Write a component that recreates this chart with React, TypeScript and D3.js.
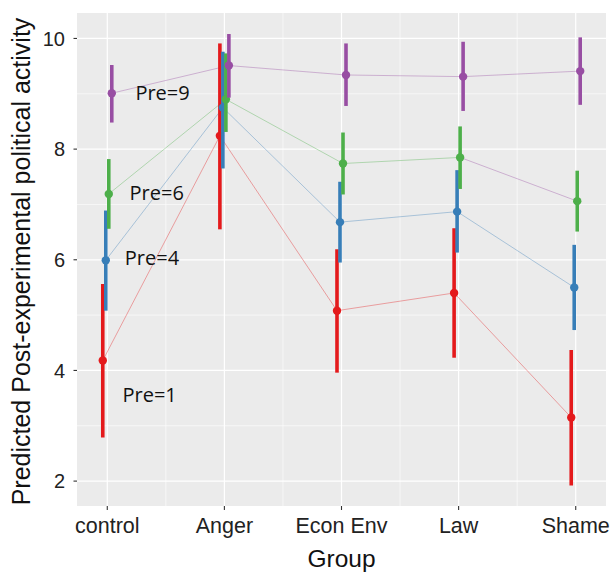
import React from "react";
import * as d3 from "d3";

const width = 614;
const height = 572;

const groups = ["control", "Anger", "Econ Env", "Law", "Shame"];
const series = ["Pre=1", "Pre=4", "Pre=6", "Pre=9"];
const colors = ["#E41A1C", "#377EB8", "#4DAF4A", "#984EA3"];

// predicted values per series, in group order
const pre1 = [4.18, 8.24, 5.08, 5.4, 3.15];
const pre4 = [5.99, 8.75, 6.68, 6.87, 5.5];
const pre6 = [7.19, 8.9, 7.74, 7.85, 7.06];
const pre9 = [9.01, 9.51, 9.34, 9.31, 9.41];

// confidence intervals
const pre1Lo = [2.79, 6.55, 3.96, 4.23, 1.92];
const pre1Hi = [5.56, 9.91, 6.19, 6.57, 4.37];
const pre4Lo = [5.08, 7.65, 5.95, 6.13, 4.73];
const pre4Hi = [6.89, 9.76, 7.41, 7.62, 6.27];
const pre6Lo = [6.56, 8.31, 7.18, 7.28, 6.51];
const pre6Hi = [7.82, 9.73, 8.3, 8.41, 7.61];
const pre9Lo = [8.48, 8.93, 8.78, 8.69, 8.8];
const pre9Hi = [9.52, 10.08, 9.91, 9.94, 10.02];

const yTicks = [2, 4, 6, 8, 10];
const yMinor = [3, 5, 7, 9];

// label positions in data units (group index offset, value)
const labelX = [0.13, 0.15, 0.19, 0.24];
const labelY = [3.55, 6.04, 7.2, 9.01];

const values = [pre1, pre4, pre6, pre9];
const lows = [pre1Lo, pre4Lo, pre6Lo, pre9Lo];
const highs = [pre1Hi, pre4Hi, pre6Hi, pre9Hi];
// the Pre=6 line between Law and Shame is drawn in purple in the original
const segColor = (s: number, i: number) => (s === 2 && i === 3 ? colors[3] : colors[s]);

const margin = { top: 13, right: 8, bottom: 66, left: 77 };

export default function App() {
  const x = d3
    .scalePoint<string>()
    .domain(groups)
    .range([margin.left, width - margin.right])
    .padding(0.2585);
  const y = d3
    .scaleLinear()
    .domain([1.55, 10.46])
    .range([height - margin.bottom, margin.top]);
  const step = x.step();
  const dodge = (s: number) => (s - 1.5) * 3;

  const minorX = groups.slice(1).map((g, i) => (x(groups[i])! + x(g)!) / 2);

  return (
    <svg
      width={width}
      height={height}
      style={{ position: "absolute", left: 0, top: 0, background: "white" }}
    >
      <rect
        x={margin.left}
        y={margin.top}
        width={width - margin.left - margin.right}
        height={height - margin.top - margin.bottom}
        fill="#EBEBEB"
      />
      {yMinor.map((v) => (
        <line key={"ym" + v} x1={margin.left} x2={width - margin.right} y1={y(v)} y2={y(v)} stroke="white" strokeWidth={0.6} />
      ))}
      {minorX.map((v, i) => (
        <line key={"xm" + i} x1={v} x2={v} y1={margin.top} y2={height - margin.bottom} stroke="white" strokeWidth={0.6} />
      ))}
      {yTicks.map((v) => (
        <line key={"yg" + v} x1={margin.left} x2={width - margin.right} y1={y(v)} y2={y(v)} stroke="white" strokeWidth={1.2} />
      ))}
      {groups.map((g) => (
        <line key={"xg" + g} x1={x(g)} x2={x(g)} y1={margin.top} y2={height - margin.bottom} stroke="white" strokeWidth={1.2} />
      ))}

      {/* connecting lines */}
      {values.map((vals, s) =>
        vals.slice(1).map((v, i) => (
          <line
            key={"l" + s + i}
            x1={x(groups[i])! + dodge(s)}
            y1={y(vals[i])}
            x2={x(groups[i + 1])! + dodge(s)}
            y2={y(v)}
            stroke={segColor(s, i)}
            strokeOpacity={0.5}
            strokeWidth={0.75}
          />
        ))
      )}

      {/* error bars and points */}
      {values.map((vals, s) =>
        vals.map((v, i) => {
          const cx = x(groups[i])! + dodge(s);
          return (
            <g key={"p" + s + i}>
              <line x1={cx} x2={cx} y1={y(lows[s][i])} y2={y(highs[s][i])} stroke={colors[s]} strokeWidth={3.6} />
              <circle cx={cx} cy={y(v)} r={4.2} fill={colors[s]} />
            </g>
          );
        })
      )}

      {/* series labels */}
      {series.map((name, s) => (
        <text
          key={name}
          x={x(groups[0])! + labelX[s] * step}
          y={y(labelY[s]) + 7}
          fontFamily="'Open Sans', sans-serif"
          fontSize={20}
          fill="#111"
        >
          {name}
        </text>
      ))}

      {/* y axis */}
      {yTicks.map((v) => (
        <g key={"yt" + v}>
          <line x1={margin.left - 3.5} x2={margin.left} y1={y(v)} y2={y(v)} stroke="#333" strokeWidth={1.1} />
          <text
            x={margin.left - 12}
            y={y(v)}
            dy="0.36em"
            textAnchor="end"
            fontFamily="'Liberation Sans', Arial, sans-serif"
            fontSize={20}
            fill="#222"
          >
            {v}
          </text>
        </g>
      ))}
      <text
        transform={`translate(30, ${(margin.top + height - margin.bottom) / 2 + 2}) rotate(-90)`}
        textAnchor="middle"
        fontFamily="'Liberation Sans', Arial, sans-serif"
        fontSize={25}
        fill="#111"
      >
        Predicted Post-experimental political activity
      </text>

      {/* x axis */}
      {groups.map((g) => (
        <g key={"xt" + g}>
          <line x1={x(g)} x2={x(g)} y1={height - margin.bottom} y2={height - margin.bottom + 4} stroke="#333" strokeWidth={1.1} />
          <text
            x={x(g)}
            y={533}
            textAnchor="middle"
            fontFamily="'Liberation Sans', Arial, sans-serif"
            fontSize={21.5}
            fill="#222"
          >
            {g}
          </text>
        </g>
      ))}
      <text
        x={(margin.left + width - margin.right) / 2}
        y={567}
        textAnchor="middle"
        fontFamily="'Liberation Sans', Arial, sans-serif"
        fontSize={24.5}
        fill="#111"
      >
        Group
      </text>
    </svg>
  );
}
